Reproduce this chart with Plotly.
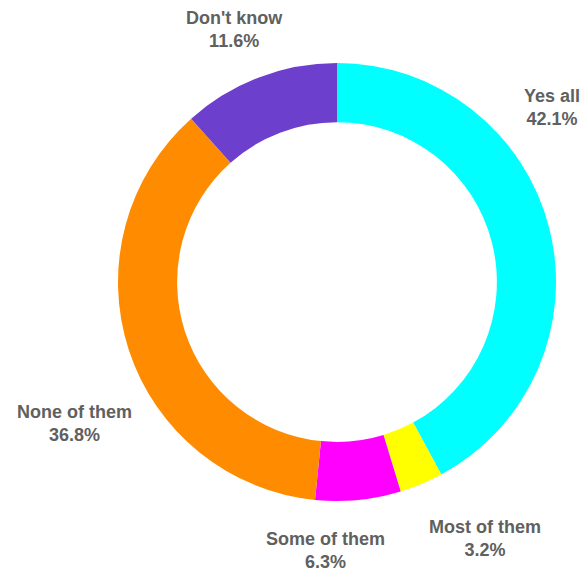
import plotly.graph_objects as go

categories = ["Yes all", "Most of them", "Some of them", "None of them", "Don't know"]
values = [42.1, 3.2, 6.3, 36.8, 11.6]
colors = ["#00ffff", "#ffff00", "#ff00ff", "#ff8c00", "#6c3fcc"]
# label anchor positions in paper coordinates (x, y)
label_pos = [(0.945, 0.812), (0.831, 0.061), (0.558, 0.041), (0.127, 0.262), (0.402, 0.949)]

W, H = 584, 574
cx, cy, r = 337, 282, 219

fig = go.Figure(go.Pie(
    labels=categories,
    values=values,
    marker=dict(colors=colors, line=dict(width=0)),
    hole=0.73,
    sort=False,
    direction="clockwise",
    rotation=0,
    textinfo="none",
    showlegend=False,
    domain=dict(x=[(cx - r) / W, (cx + r) / W], y=[(H - cy - r) / H, (H - cy + r) / H]),
))

for cat, val, (px, py) in zip(categories, values, label_pos):
    fig.add_annotation(
        x=px, y=py, xref="paper", yref="paper",
        text=f"<b>{cat}<br>{val:.1f}%</b>",
        showarrow=False, xanchor="center", yanchor="middle", align="center",
        font=dict(family="Liberation Sans Narrow, Arial Narrow, Liberation Sans, Arial", size=18, color="#606060"),
    )

fig.update_layout(
    width=W, height=H,
    margin=dict(l=0, r=0, t=0, b=0),
    paper_bgcolor="white", plot_bgcolor="white",
)

fig.write_html(
    "out.html",
    config={"displayModeBar": False},
    post_script="document.body.style.margin='0';document.body.style.overflow='hidden';",
)
